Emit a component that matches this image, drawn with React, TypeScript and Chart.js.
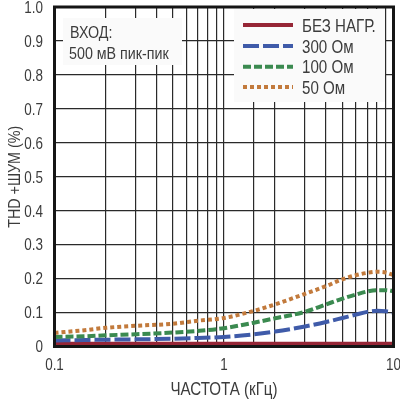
import React, { useEffect, useRef } from "react";
import { Chart, registerables } from "chart.js";

Chart.register(...registerables);

const freqs = [0.1, 0.15, 0.2, 0.3, 0.5, 0.7, 1, 1.5, 2, 3, 4, 5, 6, 7, 8, 9, 10];
const noLoad = [0.008, 0.008, 0.008, 0.008, 0.008, 0.008, 0.008, 0.008, 0.008, 0.008, 0.008, 0.008, 0.008, 0.008, 0.008, 0.008, 0.008];
const ohm300 = [0.018, 0.019, 0.02, 0.021, 0.023, 0.025, 0.028, 0.036, 0.044, 0.059, 0.072, 0.084, 0.094, 0.102, 0.105, 0.104, 0.1];
const ohm100 = [0.028, 0.03, 0.033, 0.036, 0.041, 0.046, 0.054, 0.07, 0.083, 0.102, 0.124, 0.141, 0.153, 0.162, 0.166, 0.166, 0.163];
const ohm50 = [0.04, 0.048, 0.055, 0.061, 0.067, 0.076, 0.084, 0.105, 0.124, 0.155, 0.178, 0.198, 0.21, 0.217, 0.22, 0.218, 0.21];

const seriesNames = ["БЕЗ НАГР.", "300 Ом", "100 Ом", "50 Ом"];
const seriesColors = ["#962636", "#3f5ba9", "#3b8a50", "#c27a3c"];
const seriesDashes: number[][] = [[], [16, 4], [8, 3], [4, 3]];
const xTickLabels = [0.1, 1, 10];
const yTickLabels = [0, 0.1, 0.2, 0.3, 0.4, 0.5, 0.6, 0.7, 0.8, 0.9, 1.0];
const xTitle = "ЧАСТОТА (кГц)";
const yTitle = "THD +ШУМ (%)";
const noteLines = ["ВХОД:", "500 мВ пик-пик"];

const FONT = '"Liberation Sans", Arial, sans-serif';
const SX = 0.84;
const TEXT = "#3c3c3c";

function txt(ctx: CanvasRenderingContext2D, s: string, x: number, y: number, size: number, align: CanvasTextAlign, rot = 0) {
  ctx.save();
  ctx.translate(x, y);
  if (rot) ctx.rotate(rot);
  ctx.scale(SX, 1);
  ctx.font = `${size}px ${FONT}`;
  ctx.fillStyle = TEXT;
  ctx.textAlign = align;
  ctx.textBaseline = "alphabetic";
  ctx.fillText(s, 0, 0);
  ctx.restore();
}

const overlayPlugin = {
  id: "overlay",
  afterDatasetsDraw(chart: any) {
    const ctx = chart.ctx as CanvasRenderingContext2D;
    ctx.save();
    // note box
    ctx.fillStyle = "#fafafa";
    ctx.fillRect(63, 18, 119, 47);
    txt(ctx, noteLines[0], 70, 38, 17, "left");
    txt(ctx, noteLines[1], 69, 58.5, 17, "left");
    // legend box
    ctx.fillStyle = "#fafafa";
    ctx.fillRect(234, 9, 151, 93);
    const rows = [25, 46, 66.7, 87];
    for (let i = 0; i < seriesNames.length; i++) {
      ctx.strokeStyle = seriesColors[i];
      ctx.lineWidth = 4;
      ctx.setLineDash(seriesDashes[i]);
      ctx.lineCap = "butt";
      ctx.beginPath();
      ctx.moveTo(243, rows[i]);
      ctx.lineTo(293, rows[i]);
      ctx.stroke();
      ctx.setLineDash([]);
      txt(ctx, seriesNames[i], 302, rows[i] + 6.7, 18, "left");
    }
    ctx.restore();
  },
  afterDraw(chart: any) {
    const ctx = chart.ctx as CanvasRenderingContext2D;
    const a = chart.chartArea;
    ctx.save();
    ctx.strokeStyle = "#151515";
    ctx.lineWidth = 3;
    ctx.strokeRect(a.left, a.top, a.right - a.left, a.bottom - a.top);
    ctx.restore();
    const xs = chart.scales.x;
    const ys = chart.scales.y;
    for (const v of xTickLabels) {
      txt(ctx, String(v), xs.getPixelForValue(v), 370, 16, "center");
    }
    for (const v of yTickLabels) {
      const s = v === 0 ? "0" : v.toFixed(1);
      txt(ctx, s, 43, ys.getPixelForValue(v) + 5.8, 16, "right");
    }
    txt(ctx, xTitle, (a.left + a.right) / 2, 395, 18, "center");
    txt(ctx, yTitle, 20, (a.top + a.bottom) / 2, 17, "center", -Math.PI / 2);
  },
};

export default function App() {
  const ref = useRef<HTMLCanvasElement | null>(null);
  useEffect(() => {
    document.body.style.margin = "0";
    const mk = (data: number[], i: number) => ({
      label: seriesNames[i],
      data: freqs.map((f, k) => ({ x: f, y: data[k] })),
      borderColor: seriesColors[i],
      borderWidth: 4,
      borderDash: seriesDashes[i],
      pointRadius: 0,
      cubicInterpolationMode: "monotone" as const,
      fill: false,
    });
    const chart = new Chart(ref.current!, {
      type: "line",
      data: {
        datasets: [mk(ohm50, 3), mk(ohm100, 2), mk(ohm300, 1), mk(noLoad, 0)],
      },
      options: {
        responsive: false,
        animation: false,
        layout: { padding: { top: 7, right: 6.5, left: 0, bottom: 0 } },
        plugins: { legend: { display: false }, tooltip: { enabled: false } },
        scales: {
          x: {
            type: "logarithmic",
            min: 0.1,
            max: 10,
            afterFit: (s: any) => { s.height = 52.5; s.paddingLeft = 0; s.paddingRight = 0; },
            grid: { color: "#2a2a2a", lineWidth: 1.2, drawTicks: false },
            border: { display: false },
            ticks: { display: false, autoSkip: false, maxRotation: 0 },
          },
          y: {
            min: 0,
            max: 1,
            afterFit: (s: any) => { s.width = 54.5; s.paddingTop = 0; s.paddingBottom = 0; },
            grid: { color: "#2a2a2a", lineWidth: 1.2, drawTicks: false },
            border: { display: false },
            ticks: { display: false, stepSize: 0.1 },
          },
        },
      },
      plugins: [overlayPlugin],
    });
    return () => chart.destroy();
  }, []);
  return (
    <div style={{ width: 400, height: 399, background: "#fff" }}>
      <canvas ref={ref} width={400} height={399} style={{ display: "block" }} />
    </div>
  );
}
